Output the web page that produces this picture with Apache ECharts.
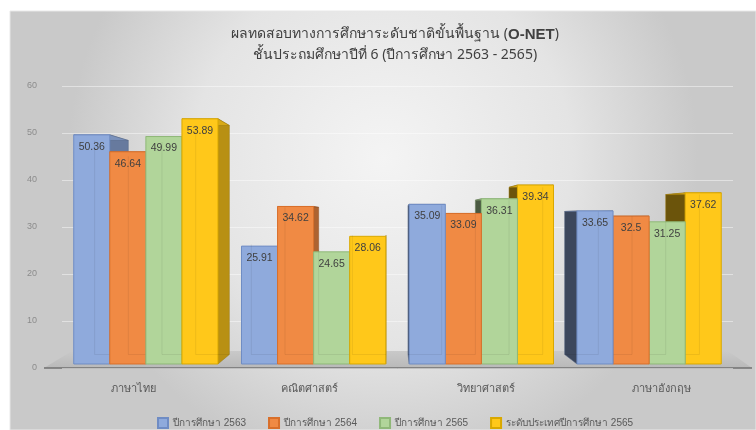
<!DOCTYPE html>
<html>
<head>
<meta charset="utf-8">
<script src="https://cdn.jsdelivr.net/npm/echarts@6/dist/echarts.min.js"></script>
<style>
  html, body { margin: 0; padding: 0; background: #fff; }
  #main { width: 756px; height: 430px; }
</style>
</head>
<body>
<div id="main"></div>
<script>
// ข้อมูลคะแนน O-NET ป.6
const subjects = ['ภาษาไทย', 'คณิตศาสตร์', 'วิทยาศาสตร์', 'ภาษาอังกฤษ'];
const seriesNames = ['ปีการศึกษา 2563', 'ปีการศึกษา 2564', 'ปีการศึกษา 2565', 'ระดับประเทศปีการศึกษา 2565'];
const y2563 = [50.36, 25.91, 35.09, 33.65];
const y2564 = [46.64, 34.62, 33.09, 32.5];
const y2565 = [49.99, 24.65, 36.31, 31.25];
const national2565 = [53.89, 28.06, 39.34, 37.62];
const yTicks = [0, 10, 20, 30, 40, 50, 60];

const colors = ['#8faadc', '#f08a44', '#b1d59a', '#ffc81a'];
const borders = ['#6f8cc4', '#d96f2a', '#8fb878', '#d9a800'];

// จุดลับตาของภาพ 3 มิติ
const VP = [390, 220];
const DEPTH = 0.066;

function back(p) {
    return [p[0] + (VP[0] - p[0]) * DEPTH, p[1] + (VP[1] - p[1]) * DEPTH];
}
function shade(hex, f) {
    const n = parseInt(hex.slice(1), 16);
    const r = Math.round(((n >> 16) & 255) * f);
    const g = Math.round(((n >> 8) & 255) * f);
    const b = Math.round((n & 255) * f);
    return 'rgb(' + r + ',' + g + ',' + b + ')';
}

const rows = subjects.map((s, i) => [i, y2563[i], y2564[i], y2565[i], national2565[i]]);

function renderItem(params, api) {
    const ci = api.value(0);
    const band = api.size([1, 0])[0];
    const bw = band * 0.86 / 4;
    const base = api.coord([ci, 0]);
    const cx = base[0];
    const yBot = base[1];
    const bars = [0, 1, 2, 3].map(k => {
        const v = api.value(k + 1);
        const x0 = cx + (k - 2) * bw;
        return {k: k, v: v, x0: x0, x1: x0 + bw, yTop: api.coord([ci, v])[1], mid: x0 + bw / 2};
    });
    // วาดแท่งที่อยู่ไกลจุดลับตาก่อน
    bars.sort((a, b) => Math.abs(b.mid - VP[0]) - Math.abs(a.mid - VP[0]));
    const children = [];
    bars.forEach(b => {
        const col = colors[b.k];
        const leftOfVP = b.mid < VP[0];
        const sx = leftOfVP ? b.x1 : b.x0;
        const sideCol = leftOfVP ? shade(col, 0.72) : shade(col, 0.42);
        children.push({
            type: 'polygon',
            shape: {points: [[sx, b.yTop], [sx, yBot], back([sx, yBot]), back([sx, b.yTop])]},
            style: {fill: sideCol, stroke: shade(col, 0.6), lineWidth: 0.5}
        });
        if (b.yTop < VP[1]) {
            children.push({
                type: 'polygon',
                shape: {points: [[b.x0, b.yTop], [b.x1, b.yTop], back([b.x1, b.yTop]), back([b.x0, b.yTop])]},
                style: {fill: shade(col, 0.85), stroke: shade(col, 0.6), lineWidth: 0.5}
            });
        }
        children.push({
            type: 'rect',
            shape: {x: b.x0, y: b.yTop, width: bw, height: yBot - b.yTop},
            style: {fill: col, stroke: borders[b.k], lineWidth: 1}
        });
        // ขอบด้านหลังที่มองทะลุ
        const hx = leftOfVP ? b.x0 : b.x1;
        children.push({
            type: 'polyline',
            shape: {points: [back([hx, b.yTop]), back([hx, yBot]), back([leftOfVP ? b.x1 : b.x0, yBot])]},
            style: {stroke: 'rgba(0,0,0,0.07)', lineWidth: 1, fill: null}
        });
        children.push({
            type: 'text',
            style: {
                text: String(b.v), x: b.mid, y: b.yTop + 12,
                align: 'center', verticalAlign: 'middle',
                fill: '#404040', fontSize: 10.5, fontFamily: 'Liberation Sans, sans-serif'
            }
        });
    });
    return {type: 'group', children: children};
}

const chart = echarts.init(document.getElementById('main'));
chart.setOption({
    backgroundColor: '#ffffff',
    animation: false,
    title: {
        left: 390,
        textAlign: 'center',
        top: 19,
        text: '{a|ผลทดสอบทางการศึกษาระดับชาติขั้นพื้นฐาน (}{b|O-NET}{a|)}\n{a|ชั้นประถมศึกษาปีที่ 6 (ปีการศึกษา 2563 - 2565)}',
        textStyle: {
            fontWeight: 'normal',
            rich: {
                a: {fontSize: 14, color: '#404040', fontWeight: 'normal', lineHeight: 21, fontFamily: 'Noto Sans, sans-serif'},
                b: {fontSize: 15, color: '#404040', fontWeight: 'bold', lineHeight: 21, fontFamily: 'Liberation Sans, sans-serif'}
            }
        }
    },
    legend: {
        data: seriesNames,
        left: 152,
        top: 412,
        icon: 'rect',
        itemWidth: 10,
        itemHeight: 10,
        itemGap: 22,
        textStyle: {fontSize: 10, color: '#595959'}
    },
    graphic: [
        {
            type: 'rect', z: -10, silent: true,
            shape: {x: 10, y: 11, width: 746, height: 419},
            style: {
                fill: new echarts.graphic.RadialGradient(0.5, 0.35, 0.75, [
                    {offset: 0, color: '#f4f4f4'},
                    {offset: 0.6, color: '#e4e4e4'},
                    {offset: 1, color: '#c9c9c9'}
                ]),
                stroke: '#e8e8e8', lineWidth: 1
            }
        },
        {
            type: 'polygon', z: -9, silent: true,
            shape: {points: [[44, 368], [752, 368], [728, 351], [72, 351]]},
            style: {
                fill: new echarts.graphic.LinearGradient(0, 0, 0, 1, [
                    {offset: 0, color: '#c9c9c9'},
                    {offset: 1, color: '#b9b9b9'}
                ])
            }
        },
        {
            type: 'line', z: -8, silent: true,
            shape: {x1: 44, y1: 368, x2: 752, y2: 368},
            style: {stroke: '#707070', lineWidth: 1.5}
        }
    ],
    grid: [
        {left: 62, right: 23, top: 86, bottom: 62},
        {left: 45, right: 6, top: 86, bottom: 62}
    ],
    xAxis: [
        {
            type: 'category', gridIndex: 0, data: subjects,
            axisLine: {show: false}, axisTick: {show: false}, axisLabel: {show: false}
        },
        {
            type: 'category', gridIndex: 1, data: subjects,
            axisLine: {show: false}, axisTick: {show: false},
            axisLabel: {margin: 15, fontSize: 11, color: '#595959', fontFamily: 'Noto Sans, sans-serif'}
        }
    ],
    yAxis: [
        {
            type: 'value', gridIndex: 0, min: yTicks[0], max: yTicks[yTicks.length - 1], interval: 10,
            axisLine: {show: false}, axisTick: {show: false},
            axisLabel: {margin: 25, fontSize: 9, color: '#8c8c8c', fontFamily: 'Liberation Sans, sans-serif'},
            splitLine: {lineStyle: {color: 'rgba(255,255,255,0.45)', width: 1}}
        },
        {
            // แกนซ่อนสำหรับหน้าแท่งด้านหน้า
            type: 'value', gridIndex: 0, min: -0.88, max: 61.1, show: false, splitLine: {show: false}
        },
        {
            type: 'value', gridIndex: 1, show: false, splitLine: {show: false}
        }
    ],
    series: [
        {
            type: 'custom',
            name: 'bars3d',
            xAxisIndex: 0,
            yAxisIndex: 1,
            renderItem: renderItem,
            encode: {x: 0, y: [1, 2, 3, 4]},
            data: rows
        }
    ].concat(seriesNames.map((n, i) => ({
        type: 'bar', name: n, xAxisIndex: 0, yAxisIndex: 0, data: [],
        itemStyle: {color: colors[i], borderColor: borders[i], borderWidth: 1}
    })))
});
</script>
</body>
</html>
